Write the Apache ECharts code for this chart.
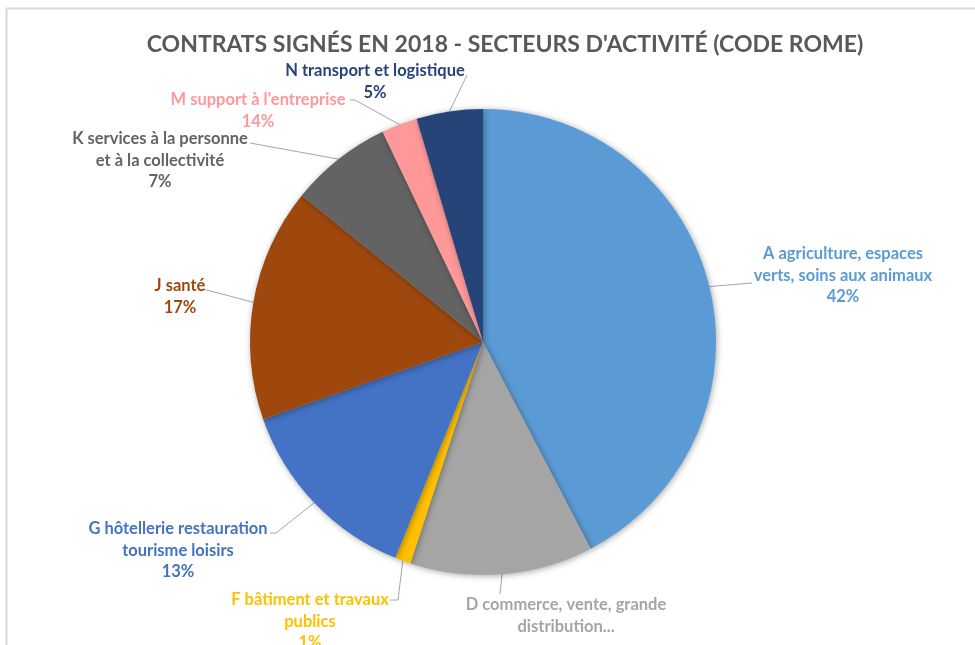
<!DOCTYPE html>
<html><head><meta charset="utf-8">
<script src="https://cdn.jsdelivr.net/npm/echarts@6/dist/echarts.min.js"></script>
<style>html,body{margin:0;padding:0;background:#fff}#c{width:975px;height:645px}</style>
</head><body><div id="c"></div>
<script>
// ---- data ----
const categories = [
  "A agriculture, espaces\nverts, soins aux animaux",
  "D commerce, vente, grande\ndistribution...",
  "F bâtiment et travaux\npublics",
  "G hôtellerie restauration\ntourisme loisirs",
  "J santé",
  "K services à la personne\net à la collectivité",
  "M support à l'entreprise",
  "N transport et logistique"
];
const values = [42.4, 12.7, 1.1, 13.5, 16.2, 7.1, 2.5, 4.6];
const pctLabels = ["42%", "", "1%", "13%", "17%", "7%", "14%", "5%"];
const colors = ["#5B9BD5", "#A5A5A5", "#FFC000", "#4472C4", "#9E480E", "#636363", "#FF9999", "#264478"];
const titleText = "CONTRATS SIGNÉS EN 2018 - SECTEURS D'ACTIVITÉ (CODE ROME)";

// ---- label placement (layout only) ----
const labelPlace = [
  {x: 843, y: 243, end: [752, 283]},
  {x: 566, y: 594, end: [500, 594]},
  {x: 310, y: 589, end: [398, 600], end2: [390, 600]},
  {x: 178, y: 518, end: [276, 533], end2: [270, 533]},
  {x: 180, y: 275, end: [203, 289]},
  {x: 160, y: 128, end: [250, 143]},
  {x: 258, y: 89,  end: [355, 100], end2: [350, 100]},
  {x: 375, y: 60,  end: [467, 75]}
];

const chart = echarts.init(document.getElementById('c'), null, {renderer: 'canvas'});
const FONT = 'Lato';
const data = categories.map((n, i) => ({
  name: n, value: values[i],
  itemStyle: {color: colors[i]},
  label: {color: colors[i]}
}));

chart.setOption({
  animation: false,
  backgroundColor: '#fff',
  graphic: [{
    type: 'rect', shape: {x: 6.5, y: 8.5, width: 1000, height: 700},
    style: {fill: 'none', stroke: '#D9D9D9', lineWidth: 2}, silent: true
  }],
  title: {
    text: titleText, left: 500, top: 28, textAlign: 'center',
    textStyle: {fontFamily: FONT, fontWeight: 'bold', fontSize: 23, color: '#595959'}
  },
  series: [{
    type: 'pie',
    center: [483, 342], radius: 233,
    startAngle: 90, clockwise: true,
    data: data,
    itemStyle: {shadowBlur: 6, shadowColor: 'rgba(0,0,0,0.35)', shadowOffsetX: 1, shadowOffsetY: 1},
    label: {
      show: true, position: 'outside',
      fontFamily: FONT, fontWeight: 'bold', fontSize: 16.5, lineHeight: 21.5,
      align: 'center',
      formatter: p => pctLabels[p.dataIndex] ? p.name + '\n' + pctLabels[p.dataIndex] : p.name
    },
    labelLine: {show: true, lineStyle: {color: '#A6A6A6', width: 1}},
    labelLayout: function (params) {
      const L = labelPlace[params.dataIndex];
      const p0 = params.labelLinePoints ? params.labelLinePoints[0] : null;
      const pts = [];
      if (p0) pts.push(p0);
      if (L.end2) { pts.push(L.end); pts.push(L.end2); }
      else { pts.push(L.end); pts.push(L.end); }
      return {x: L.x, y: L.y, align: 'center', verticalAlign: 'top', labelLinePoints: pts, moveOverlap: null, hideOverlap: false};
    }
  }]
});
</script></body></html>
